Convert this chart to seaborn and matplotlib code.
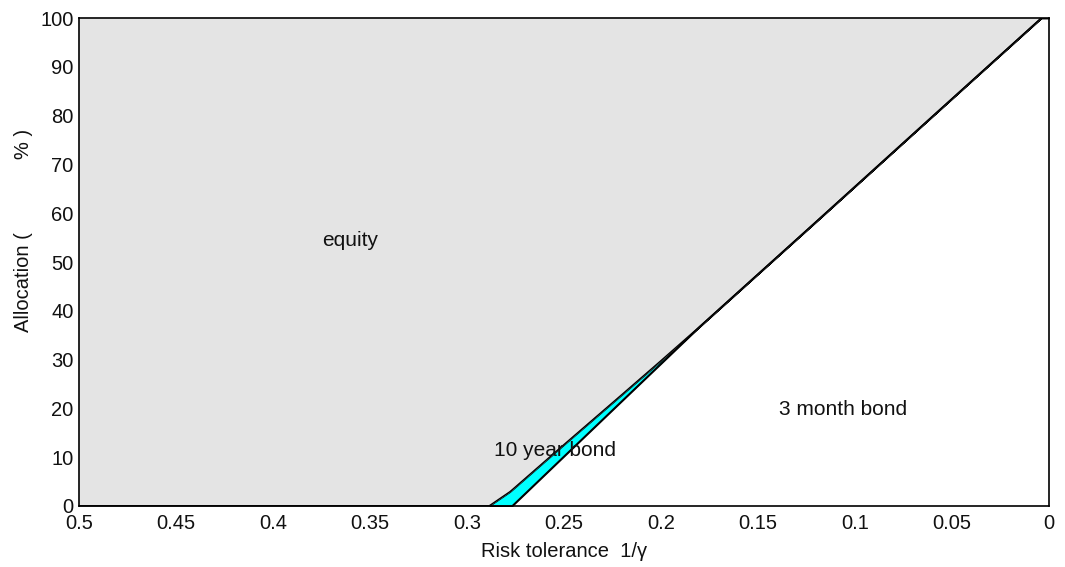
import matplotlib
matplotlib.use("Agg")
import matplotlib.pyplot as plt
import numpy as np
import seaborn as sns

# risk tolerance 1/gamma and allocation shares (%)
risk_tol = [0.5, 0.2887, 0.278, 0.2768, 0.25, 0.22, 0.20, 0.18, 0.12, 0.06, 0.004, 0.0]
bond_3m = [0, 0, 0, 0, 10.2, 21.6, 29.2, 36.8, 58.3, 79.9, 100, 100]
bond_10y = [0, 0, 2.9, 3.3, 2.4, 1.3, 0.6, 0, 0, 0, 0, 0]

labels = ["3 month bond", "10 year bond", "equity"]
label_pos = [(0.106, 19.7), (0.2546, 11.3), (0.36, 54.5)]

sns.set_style("white")
plt.rcParams["font.family"] = ["Liberation Sans", "DejaVu Sans"]

x = np.array(risk_tol)
lower = np.array(bond_3m)
upper = lower + np.array(bond_10y)

fig = plt.figure(figsize=(10.65, 5.67), dpi=100)
ax = fig.add_axes([0.0742, 0.1076, 0.9108, 0.8606])

ax.fill_between(x, 0, lower, color="white", lw=0)
ax.fill_between(x, lower, upper, facecolor="#00ffff", edgecolor="black", lw=1)
ax.fill_between(x, upper, 100, color="#e4e4e4", lw=0)
ax.plot(x, lower, color="black", lw=1)
ax.plot(x, upper, color="black", lw=1)

for lab, (lx, ly) in zip(labels, label_pos):
    ax.text(lx, ly, lab, ha="center", va="center", fontsize=15, color="#111111")

ax.set_xlim(0.5, 0)
ax.set_ylim(0, 100)
ax.set_xticks([0.5, 0.45, 0.4, 0.35, 0.3, 0.25, 0.2, 0.15, 0.1, 0.05, 0])
ax.set_xticklabels(["0.5", "0.45", "0.4", "0.35", "0.3", "0.25", "0.2", "0.15", "0.1", "0.05", "0"])
ax.set_yticks(range(0, 101, 10))
ax.tick_params(length=0, labelsize=14.5, labelcolor="#111111")
ax.tick_params(axis="x", pad=6)
ax.tick_params(axis="y", pad=4)
ax.set_xlabel("Risk tolerance  1/\u03b3", fontsize=14.5, labelpad=6, color="#111111")
ax.set_ylabel("Allocation (             % )", fontsize=14.5, color="#111111")
ax.yaxis.set_label_coords(-0.047, 0.565)
for s in ax.spines.values():
    s.set_color("black")
    s.set_linewidth(1.2)

fig.savefig("out.png", dpi=100)
